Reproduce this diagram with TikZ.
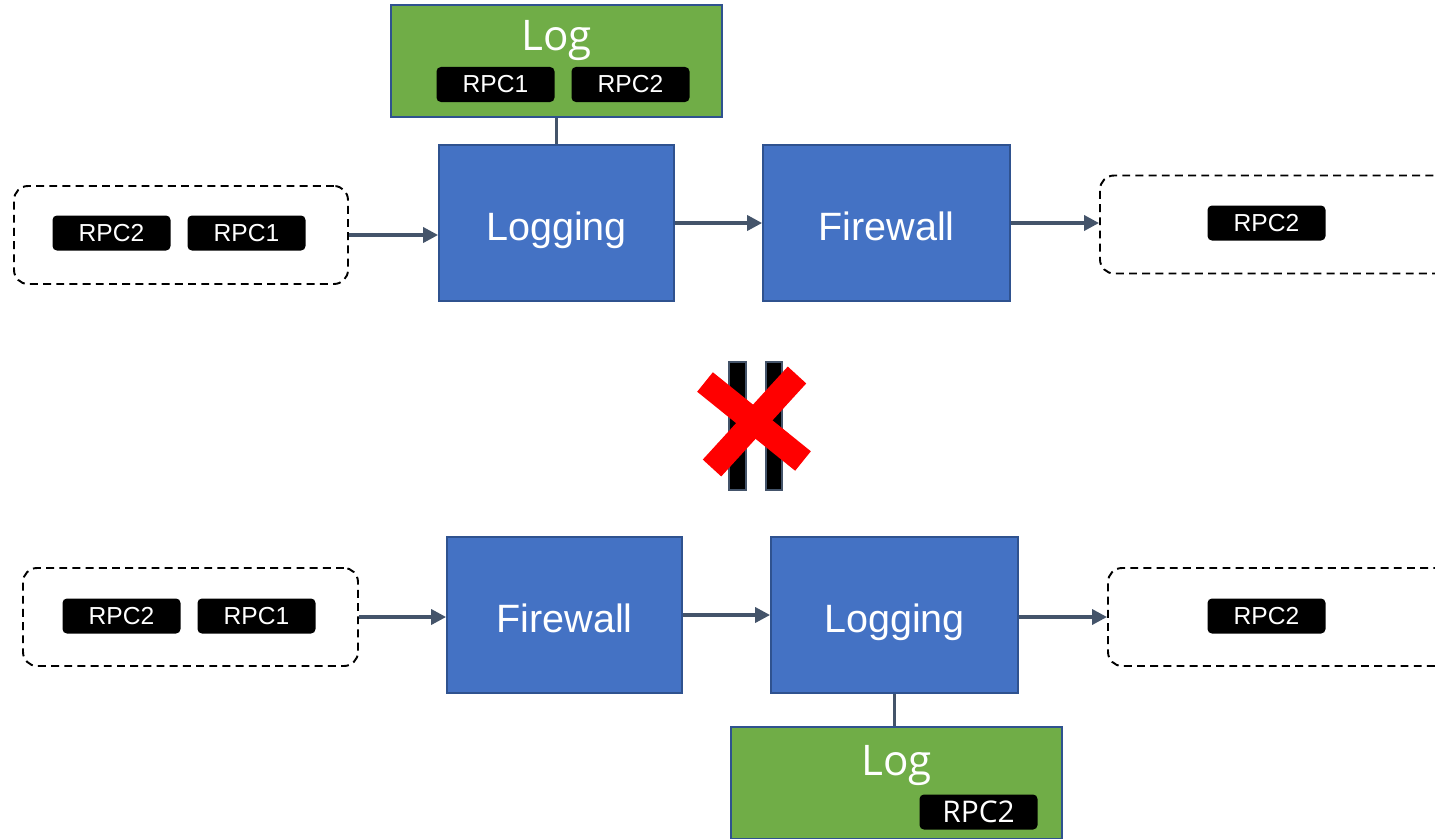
\documentclass[tikz,border=0pt]{standalone}
\usepackage{fontspec}
\usepackage{xcolor}
\usetikzlibrary{arrows.meta,positioning}
\setmainfont{Open Sans}
\newfontfamily\chipfont{Liberation Sans}
\definecolor{procblue}{RGB}{68,114,196}
\definecolor{edgeblue}{RGB}{47,82,143}
\definecolor{loggreen}{RGB}{112,173,71}
\definecolor{slate}{RGB}{68,84,106}
\definecolor{crossred}{RGB}{255,0,0}
\newcommand{\pxl}{0.02cm}

\tikzset{
  procbox/.style={draw=edgeblue, line width=1pt, fill=procblue, text=white,
    minimum width=235*\pxl, minimum height=156*\pxl, inner sep=0pt,
    font=\chipfont\fontsize{22.5}{26}\selectfont,
    text height=20pt, text depth=0pt},
  logbox/.style={draw=edgeblue, line width=1pt, fill=loggreen,
    minimum width=331*\pxl, minimum height=112*\pxl, inner sep=0pt},
  logtitle/.style={text=white, inner sep=0pt, font=\fontsize{24}{28}\selectfont},
  chip/.style={fill=black, rounded corners=2.5pt, text=white,
    minimum width=118*\pxl, minimum height=35*\pxl, inner sep=0pt,
    font=\chipfont\fontsize{14}{16}\selectfont},
  msgbox/.style={draw=black, line width=1.1pt, dash pattern=on 4.5pt off 3pt,
    rounded corners=8pt, minimum height=98*\pxl, inner sep=0pt},
  flow/.style={draw=slate, line width=2pt, -{Triangle[length=8.5pt,width=8.5pt]}},
  tether/.style={draw=slate, line width=1.8pt},
}

\begin{document}
\begin{tikzpicture}[x=\pxl, y=-\pxl]
\useasboundingbox (0,0) rectangle (1435,838);
\clip (0,0) rectangle (1435,838);

% ════════════════════════════════════════════════════════════════════════════
% TOP ROW — Logging before Firewall
% ════════════════════════════════════════════════════════════════════════════
\node[msgbox, minimum width=334*\pxl] (inA) at (181,235) {};
\node[chip] (inA2) at (111.5,233) {RPC2};
\node[chip] (inA1) at (246.5,233) {RPC1};

\node[procbox] (logA) at (556.5,223) {Logging};
\node[procbox, minimum width=247*\pxl] (fwA) at (886.5,223) {Firewall};

\node[msgbox, minimum width=400*\pxl] (outA) at (1300,224.5) {};
\node[chip] (outA2) at (1266.5,223) {RPC2};

% log record above
\node[logbox] (recA) at (556.5,61) {};
\node[logtitle] (recAt) at (556.5,41) {Log};
\node[chip] (recA1) at (495.5,84.5) {RPC1};
\node[chip] (recA2) at (630.5,84.5) {RPC2};

\draw[tether] (recA) -- (logA);
\draw[flow] (inA.east) -- (inA.east -| logA.west);
\draw[flow] (logA) -- (fwA);
\draw[flow] (fwA.east) -- (fwA.east -| outA.west);

% ════════════════════════════════════════════════════════════════════════════
% NOT EQUAL — crossed bars
% ════════════════════════════════════════════════════════════════════════════
\draw[slate, fill=black, line width=0.8pt] (729,362) rectangle (746,490);
\draw[slate, fill=black, line width=0.8pt] (766,362) rectangle (782,490);
\draw[crossred, line width=25*\pxl] (705,382) -- (803,461);
\draw[crossred, line width=25*\pxl] (797,375) -- (712,468);

% ════════════════════════════════════════════════════════════════════════════
% BOTTOM ROW — Firewall before Logging
% ════════════════════════════════════════════════════════════════════════════
\node[msgbox, minimum width=335*\pxl] (inB) at (190.5,617) {};
\node[chip] (inB2) at (121.5,616) {RPC2};
\node[chip] (inB1) at (256.5,616) {RPC1};

\node[procbox] (fwB) at (564.5,615) {Firewall};
\node[procbox, minimum width=247*\pxl] (logB) at (894.5,615) {Logging};

\node[msgbox, minimum width=400*\pxl] (outB) at (1308,617) {};
\node[chip] (outB2) at (1266.5,616) {RPC2};

% log record below
\node[logbox] (recB) at (896.5,783) {};
\node[logtitle] (recBt) at (896.5,766) {Log};
\node[chip, font=\fontsize{17}{20}\selectfont] (recB2) at (978.5,812) {RPC2};

\draw[tether] (logB.south) -- (logB.south |- recB.north);
\draw[flow] (inB.east) -- (inB.east -| fwB.west);
\draw[flow] (fwB) -- (logB);
\draw[flow] (logB.east |- outB.west) -- (outB.west);

\end{tikzpicture}
\end{document}
